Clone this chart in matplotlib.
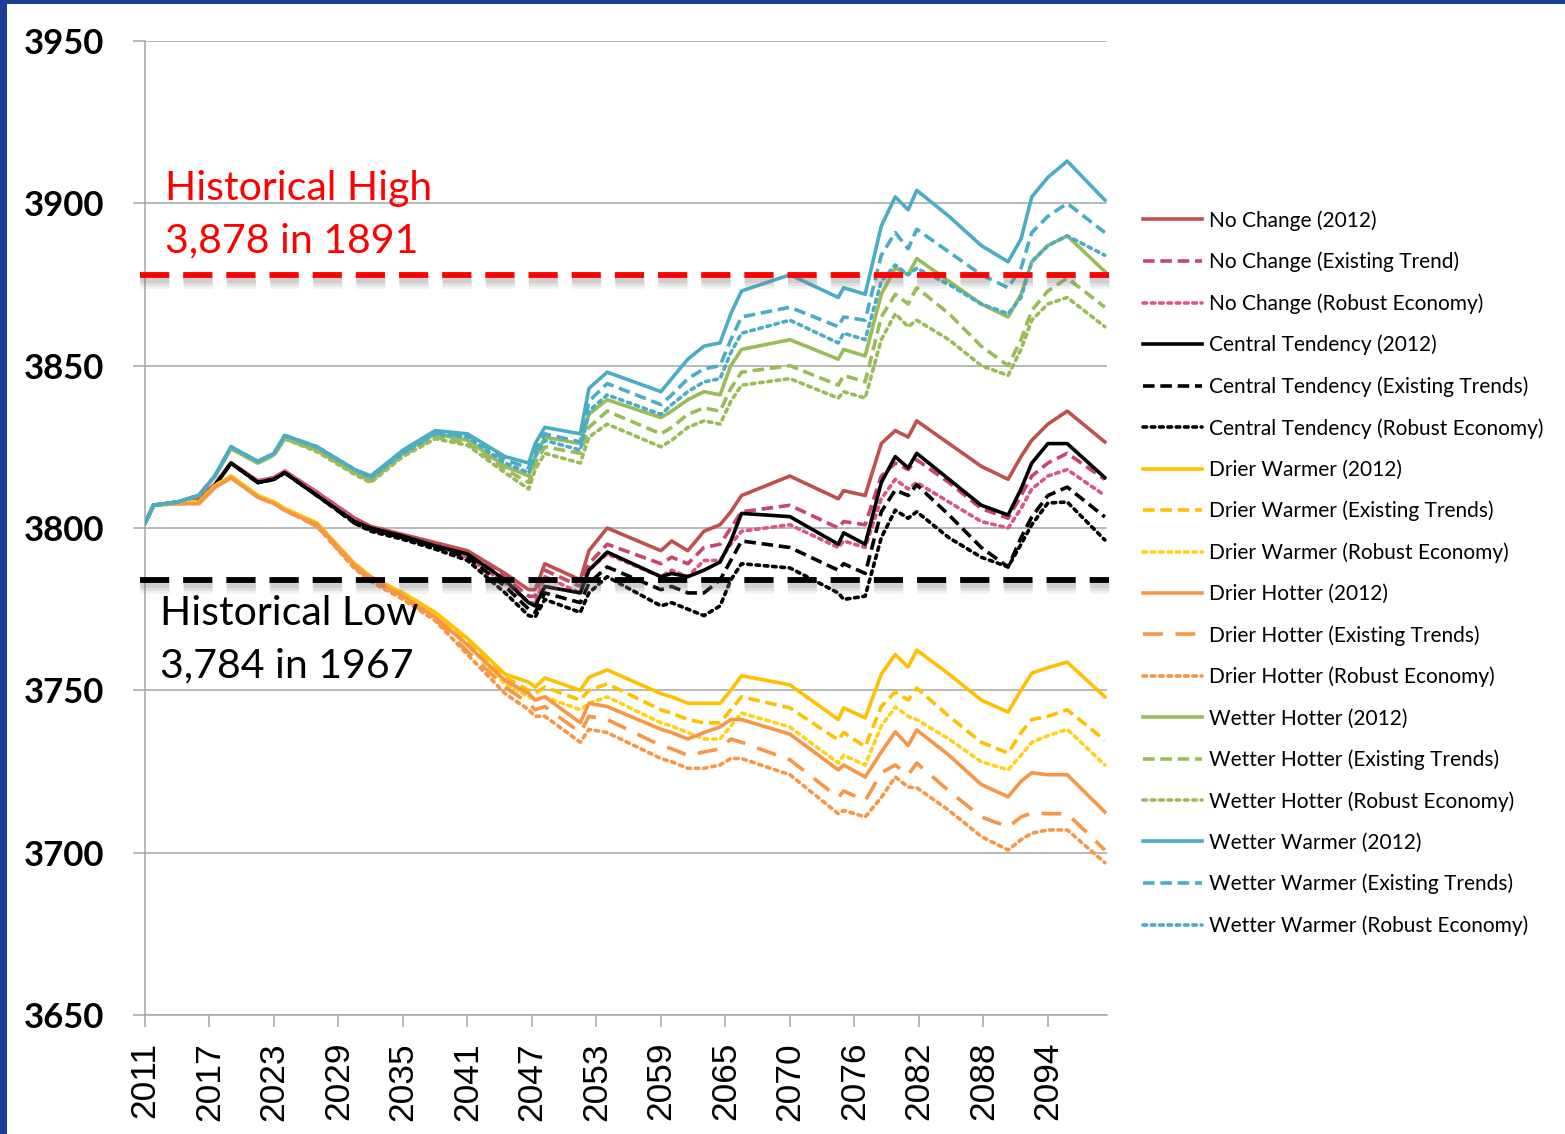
import matplotlib
matplotlib.use("Agg")
import matplotlib.pyplot as plt
from matplotlib import patheffects as pe
from matplotlib.patches import Rectangle

# ---------------------------------------------------------------------------
# Lake elevation projections (ft), read at shared breakpoints.
# t = years elapsed on the category axis (0 = 2011).
# ---------------------------------------------------------------------------
t = [0, 0.8, 3, 5, 6.5, 8, 10.5, 12, 13, 16, 19.5, 21, 24, 27,
     30, 33.5, 35.7, 36.3, 37.2, 40.5, 41.3, 43, 48, 49, 50.5, 52, 53.5, 54.5, 55.5,
     60, 64.5, 65, 67, 68.5, 69.8, 71, 71.8, 74.8, 77.8, 80.3, 81.5, 82.5, 84, 85.8, 89.3]

tick_pos = [0, 6, 12, 18, 24, 30, 36, 42, 48, 54, 60, 66, 72, 78, 84]
tick_labels = ["2011", "2017", "2023", "2029", "2035", "2041", "2047", "2053",
               "2059", "2065", "2070", "2076", "2082", "2088", "2094"]

no_change_2012 = [3801.5, 3807, 3808, 3809, 3813.5, 3820, 3814.5, 3815.5, 3817.5, 3811, 3803, 3800.5, 3798, 3795.5,
                  3793, 3786, 3781, 3781, 3789, 3784, 3793, 3800, 3793, 3796, 3793, 3799, 3801, 3805, 3810,
                  3816, 3809, 3811.5, 3810, 3826, 3830, 3828, 3833, 3826, 3819, 3815, 3822, 3827, 3832, 3836, 3826.5]
no_change_existing = [3801.5, 3807, 3808, 3809, 3813.5, 3820, 3814.5, 3815.5, 3817.5, 3811, 3803, 3800, 3797.5, 3795,
                      3792, 3785, 3779, 3779, 3787, 3782, 3789, 3795, 3789, 3791, 3789, 3794, 3795, 3800, 3805,
                      3807, 3800, 3802, 3801, 3816, 3820, 3818, 3821, 3814, 3806, 3803, 3810, 3816, 3820, 3823, 3815]
no_change_robust = [3801.5, 3807, 3808, 3809, 3813.5, 3820, 3814.5, 3815.5, 3817.5, 3811, 3802.5, 3799.5, 3797, 3794.5,
                    3791, 3783, 3777, 3777, 3785, 3780, 3787, 3792, 3785, 3787, 3785, 3790, 3790, 3795, 3799,
                    3801, 3794, 3796, 3794, 3809, 3815, 3812, 3814, 3808, 3802, 3800, 3806, 3812, 3816, 3818, 3810]

central_2012 = [3801.5, 3807, 3808, 3808, 3813, 3820, 3814, 3815, 3817, 3810, 3802, 3800, 3797.5, 3794.5,
                3792, 3784, 3777, 3776, 3782, 3780, 3787, 3792.6, 3785, 3786, 3785, 3787, 3789.5, 3796, 3804.5,
                3803.5, 3795, 3798.5, 3795, 3814, 3822, 3818.5, 3823, 3815, 3807, 3804, 3812, 3820, 3826, 3826, 3815.5]
central_existing = [3801.5, 3807, 3808, 3808, 3813, 3820, 3814, 3815, 3817, 3810, 3801.5, 3799.5, 3797, 3794,
                    3791, 3782, 3775, 3774, 3780, 3777, 3783, 3788, 3781, 3782, 3780, 3780, 3784, 3790, 3796,
                    3794, 3787, 3789, 3786, 3805, 3811.7, 3810, 3813.3, 3804, 3794, 3788, 3797, 3803.4, 3810, 3812.6, 3803.4]
central_robust = [3801.5, 3807, 3808, 3808, 3813, 3820, 3814, 3815, 3817, 3810, 3801.5, 3799, 3796.5, 3793.5,
                  3790, 3780, 3773, 3772.6, 3778, 3774, 3780, 3785, 3776, 3777, 3775, 3773, 3776, 3784, 3789,
                  3787.7, 3780, 3778, 3779, 3797, 3805.5, 3803, 3805, 3797, 3791, 3788, 3795, 3801, 3807.7, 3808, 3796.3]

drier_warmer_2012 = [3801.5, 3807, 3808, 3808, 3813, 3816, 3810, 3808, 3806, 3801.5, 3789, 3785, 3780, 3774,
                     3766, 3755, 3752.5, 3751, 3753.8, 3750, 3754, 3756.3, 3749, 3748, 3746, 3746, 3746, 3750, 3754.5,
                     3751.7, 3741, 3744.6, 3741.5, 3755, 3761, 3757.2, 3762.4, 3755, 3747, 3743.3, 3750, 3755.3, 3757, 3758.7, 3748]
drier_warmer_existing = [3801.5, 3807, 3808, 3808, 3813, 3816, 3810, 3808, 3806, 3801.5, 3789, 3785, 3779.5, 3773.5,
                         3765, 3754, 3750, 3749, 3751, 3747, 3750, 3752, 3744, 3743, 3741, 3740, 3740, 3744, 3748,
                         3744.6, 3734.7, 3737, 3732.6, 3745, 3749.5, 3747, 3750.7, 3742, 3734, 3730.7, 3737, 3741, 3742, 3744, 3734.7]
drier_warmer_robust = [3801.5, 3807, 3808, 3808, 3813, 3816, 3810, 3808, 3806, 3801, 3788.5, 3784.5, 3779, 3773,
                       3764, 3752, 3748, 3747, 3748, 3744, 3746, 3748, 3740, 3739, 3737, 3735, 3735, 3739, 3743,
                       3738.7, 3727.6, 3730, 3727, 3739, 3744.9, 3742, 3741, 3735, 3728, 3725.5, 3730, 3734, 3736, 3738, 3727]

drier_hotter_2012 = [3801.5, 3807, 3807.5, 3807.5, 3812.5, 3815.5, 3809.5, 3807.5, 3805.5, 3801, 3788.5, 3784.5, 3779, 3772.5,
                     3764, 3753, 3749, 3747, 3748, 3740, 3746, 3745, 3738, 3737, 3735, 3737, 3738.7, 3741, 3741,
                     3736.5, 3725.5, 3727, 3723.3, 3731, 3737.2, 3733, 3737.8, 3730, 3721, 3717.2, 3722, 3724.6, 3724, 3724, 3712.5]
drier_hotter_existing = [3801.5, 3807, 3807.5, 3807.5, 3812.5, 3815.5, 3809.5, 3807.5, 3805.5, 3800.5, 3788, 3784, 3778.5, 3772,
                         3762, 3751, 3746, 3744, 3745, 3737, 3742, 3741, 3733, 3732, 3730, 3731, 3732, 3735, 3734,
                         3728.6, 3717, 3719, 3716, 3724.6, 3727, 3724, 3727.6, 3719, 3711, 3707.9, 3711, 3712.2, 3712, 3712, 3700.8]
drier_hotter_robust = [3801.5, 3807, 3807.5, 3807.5, 3812.5, 3815.5, 3809.5, 3807.5, 3805.5, 3800.5, 3787.5, 3783.5, 3778, 3771.5,
                       3761, 3749, 3744, 3742, 3742, 3734, 3738, 3737, 3729, 3728, 3726, 3726, 3727, 3729, 3729,
                       3724, 3712, 3713, 3711, 3717, 3723.3, 3720.2, 3720, 3713, 3705, 3700.8, 3704, 3706, 3707, 3707, 3696.9]

wetter_hotter_2012 = [3801.5, 3807, 3808, 3810, 3816, 3824.5, 3820, 3822.5, 3827.5, 3824, 3817, 3815, 3823, 3829,
                      3827, 3819, 3816, 3822, 3828, 3826, 3835, 3839.5, 3834, 3836, 3839.5, 3842, 3841, 3850, 3855,
                      3858, 3852, 3855, 3853, 3872, 3880, 3878, 3883, 3876, 3869, 3865, 3872, 3882, 3887, 3890, 3879]
wetter_hotter_existing = [3801.5, 3807, 3808, 3810, 3816, 3824.5, 3820, 3822.5, 3827.5, 3824, 3817, 3814.5, 3822.5, 3828,
                          3826, 3818, 3814, 3820, 3825, 3823, 3831, 3836, 3829, 3831, 3835, 3837, 3836, 3843, 3848,
                          3850, 3844, 3847, 3845, 3865, 3872, 3869, 3874, 3866, 3856, 3850, 3858, 3867, 3873, 3877, 3868]
wetter_hotter_robust = [3801.5, 3807, 3808, 3810, 3816, 3824.5, 3820, 3822.5, 3827.5, 3823.5, 3816.5, 3814, 3822, 3827.5,
                        3825.5, 3817, 3812, 3818, 3823, 3820, 3828, 3832, 3825, 3827, 3831, 3833, 3832, 3839, 3844,
                        3846, 3840, 3842, 3840, 3858, 3866, 3862, 3864, 3858, 3850, 3847, 3855, 3864, 3869, 3871, 3862]

wetter_warmer_2012 = [3801.5, 3807, 3808, 3810, 3816, 3825, 3820.5, 3823, 3828.5, 3825, 3818, 3816, 3824, 3830,
                      3829, 3822, 3820, 3826, 3831, 3829, 3843, 3848, 3842, 3846, 3852, 3856, 3857, 3866, 3873,
                      3878, 3871, 3874, 3872, 3893, 3902, 3898, 3904, 3896, 3887, 3882, 3889, 3902, 3908, 3913, 3901]
wetter_warmer_existing = [3801.5, 3807, 3808, 3810, 3816, 3825, 3820.5, 3823, 3828.5, 3825, 3818, 3816, 3823.5, 3829.5,
                          3828.5, 3821, 3818.5, 3824, 3829, 3826.5, 3839, 3844.5, 3838, 3841, 3846, 3849, 3850, 3858, 3865,
                          3868, 3862, 3865, 3864, 3884, 3891, 3886, 3892, 3885, 3878, 3874, 3880, 3891, 3896, 3900, 3891]
wetter_warmer_robust = [3801.5, 3807, 3808, 3810, 3816, 3825, 3820.5, 3823, 3828.5, 3825, 3818, 3815.5, 3823, 3829,
                        3828, 3820, 3817, 3822, 3827, 3824, 3836, 3841, 3835, 3838, 3842, 3845, 3846, 3854, 3860,
                        3864, 3857, 3860, 3858, 3876, 3881, 3878, 3880, 3875, 3869, 3866, 3871, 3882, 3887, 3890, 3884]

historical_high = 3878
historical_low = 3784

# ---------------------------------------------------------------------------
SOLID = "-"
DASH = (0, (3.2, 1.6))
LONGDASH = (0, (5.5, 3.5))
DOT = (0, (1.0, 1.3))

series = [
    ("No Change (2012)", no_change_2012, "#C0504D", SOLID),
    ("No Change (Existing Trend)", no_change_existing, "#C8456B", DASH),
    ("No Change (Robust Economy)", no_change_robust, "#D9587E", DOT),
    ("Central Tendency (2012)", central_2012, "#000000", SOLID),
    ("Central Tendency (Existing Trends)", central_existing, "#000000", DASH),
    ("Central Tendency (Robust Economy)", central_robust, "#000000", DOT),
    ("Drier Warmer (2012)", drier_warmer_2012, "#FFC000", SOLID),
    ("Drier Warmer (Existing Trends)", drier_warmer_existing, "#FFC000", DASH),
    ("Drier Warmer (Robust Economy)", drier_warmer_robust, "#FFD21A", DOT),
    ("Drier Hotter (2012)", drier_hotter_2012, "#F79646", SOLID),
    ("Drier Hotter (Existing Trends)", drier_hotter_existing, "#F79646", LONGDASH),
    ("Drier Hotter (Robust Economy)", drier_hotter_robust, "#F79646", DOT),
    ("Wetter Hotter (2012)", wetter_hotter_2012, "#9BBB59", SOLID),
    ("Wetter Hotter (Existing Trends)", wetter_hotter_existing, "#9BBB59", DASH),
    ("Wetter Hotter (Robust Economy)", wetter_hotter_robust, "#9BBB59", DOT),
    ("Wetter Warmer (2012)", wetter_warmer_2012, "#4BACC6", SOLID),
    ("Wetter Warmer (Existing Trends)", wetter_warmer_existing, "#4BACC6", DASH),
    ("Wetter Warmer (Robust Economy)", wetter_warmer_robust, "#4BACC6", DOT),
]

W, H = 1565, 1134
PX = 72 / 100  # points per pixel at 100 dpi
fig = plt.figure(figsize=(W / 100, H / 100), dpi=100)
fig.patch.set_facecolor("white")

# slide frame
fig.add_artist(Rectangle((0, 0), 7 / W, 1, transform=fig.transFigure,
                         facecolor="#1C3F95", edgecolor="none", zorder=10))
fig.add_artist(Rectangle((0, 1 - 4 / H), 1, 4 / H, transform=fig.transFigure,
                         facecolor="#1C3F95", edgecolor="none", zorder=10))

ax = fig.add_axes([145 / W, 1 - 1015 / H, (1107 - 145) / W, (1015 - 41) / H])
ax.set_xlim(0, 89.5)
ax.set_ylim(3650, 3950)

for label, vals, color, ls in series:
    ax.plot(t, vals, color=color, linestyle=ls, lw=2.6, label=label,
            solid_joinstyle="round", dash_capstyle="round" if ls == DOT else "butt",
            zorder=3)

# soft drop shadow under the historical reference lines
shadow = [pe.SimpleLineShadow(offset=(0, -3.5), shadow_color="0.5", alpha=0.10, linewidth=12),
          pe.SimpleLineShadow(offset=(0, -3.5), shadow_color="0.5", alpha=0.14, linewidth=8),
          pe.SimpleLineShadow(offset=(0, -3.5), shadow_color="0.5", alpha=0.18, linewidth=4.5),
          pe.Normal()]
dash_ref = (0, (5, 2.4))
ax.axhline(historical_high, xmin=-0.005, xmax=1.002, color="#FF0000", lw=4.2,
           linestyle=dash_ref, zorder=4, clip_on=False, path_effects=shadow)
ax.axhline(historical_low, xmin=-0.005, xmax=1.002, color="#000000", lw=4.2,
           linestyle=dash_ref, zorder=4, clip_on=False, path_effects=shadow)

narrow = ["Liberation Sans Narrow", "Lato", "DejaVu Sans"]
ax.text(1.9, 3901, "Historical High", color="#FF0000", fontsize=29.5, family=narrow,
        va="baseline", ha="left", zorder=5)
ax.text(1.9, 3885, "3,878 in 1891", color="#FF0000", fontsize=29.5, family=narrow,
        va="baseline", ha="left", zorder=5)
ax.text(1.4, 3770, "Historical Low", color="#000000", fontsize=29.5, family=narrow,
        va="baseline", ha="left", zorder=5)
ax.text(1.4, 3754, "3,784 in 1967", color="#000000", fontsize=29.5, family=narrow,
        va="baseline", ha="left", zorder=5)

# axes styling
ax.set_yticks([3650, 3700, 3750, 3800, 3850, 3900, 3950])
ax.set_yticklabels(["3650", "3700", "3750", "3800", "3850", "3900", "3950"],
                   fontsize=25, fontweight="bold", family=["Lato", "DejaVu Sans"])
ax.set_xticks(tick_pos)
ax.set_xticklabels(tick_labels, rotation=90, fontsize=25.5,
                   family=["Liberation Sans", "DejaVu Sans"])
ax.grid(axis="y", color="#A6A6A6", lw=1.1, zorder=0)
for side in ("top", "right"):
    ax.spines[side].set_visible(False)
for side in ("left", "bottom"):
    ax.spines[side].set_color("#A6A6A6")
    ax.spines[side].set_linewidth(1.1)
ax.tick_params(axis="y", length=12 * PX, width=1.1, color="#A6A6A6", pad=29 * PX)
ax.tick_params(axis="x", length=12 * PX, width=1.1, color="#A6A6A6", pad=15 * PX)

leg = fig.legend(loc="upper left", bbox_to_anchor=(1143 / W, 1 - 210 / H),
                 frameon=False, prop={"family": ["Lato", "DejaVu Sans"], "size": 15},
                 handlelength=2.85, handletextpad=0.3, labelspacing=1.01,
                 borderpad=0, borderaxespad=0)
for line in leg.get_lines():
    line.set_linewidth(2.6)

fig.savefig("out.png", dpi=100, facecolor="white")
